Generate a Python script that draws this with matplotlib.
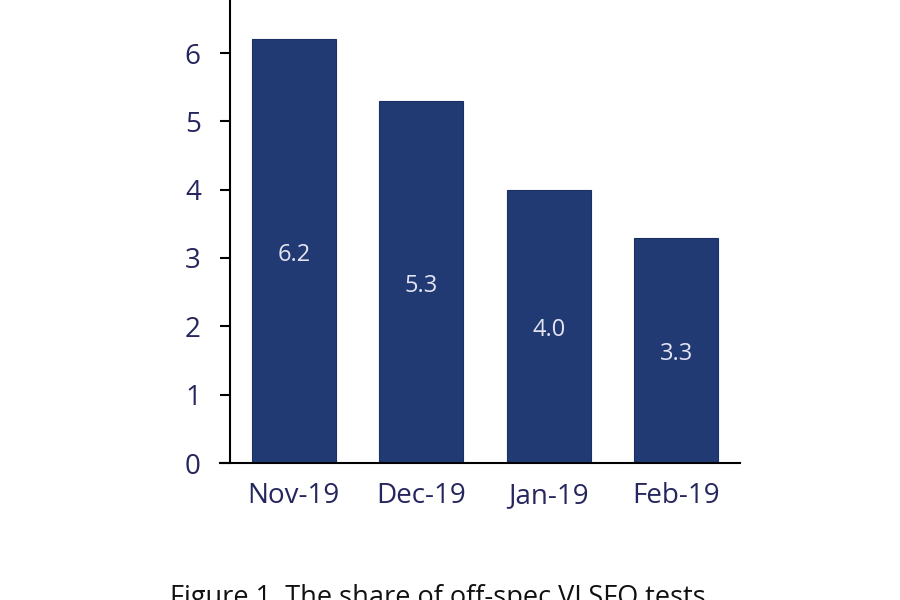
import matplotlib
matplotlib.use("Agg")
import matplotlib.pyplot as plt

categories = ["Nov-19", "Dec-19", "Jan-19", "Feb-19"]
values = [6.2, 5.3, 4.0, 3.3]
yticks = [0, 1, 2, 3, 4, 5, 6]
caption = "Figure 1. The share of off-spec VLSFO tests"

bar_color = "#213a73"
text_color = "#26265e"

fig = plt.figure(figsize=(9, 6), dpi=100)
ax = fig.add_axes([230/900, 1 - 463/600, 510/900, 463/600])

x = list(range(len(categories)))
bars = ax.bar(x, values, width=0.66, color=bar_color, edgecolor="#1a2f66", linewidth=0.8, zorder=2)

for xi, v in zip(x, values):
    ax.annotate(f"{v:.1f}", (xi, v / 2), xytext=(0, -3), textcoords="offset points",
                ha="center", va="center", color="#e4e4f2",
                fontsize=17, family="Open Sans", zorder=3)

ax.set_xlim(-0.5, 3.5)
ax.set_ylim(0, 463 / (410 / 6))
ax.set_yticks(yticks)
ax.set_yticklabels([str(t) for t in yticks], family="Open Sans", fontsize=20, color=text_color)
ax.set_xticks(x)
ax.set_xticklabels(categories, family="Open Sans", fontsize=20, color=text_color)

ax.tick_params(axis="y", length=7, width=1.5, pad=14, color="black")
ax.tick_params(axis="x", length=0, pad=14)
for s in ["top", "right"]:
    ax.spines[s].set_visible(False)
ax.spines["left"].set_linewidth(1.5)
ax.spines["bottom"].set_linewidth(1.5)
ax.spines["bottom"].set_bounds(-0.5 - 10/127.5, 3.5)

fig.text(170/900, 1 - 584/600, caption, ha="left", va="top", fontsize=19.5,
         family="Open Sans", color="#111111")

fig.savefig("out.png", dpi=100)
